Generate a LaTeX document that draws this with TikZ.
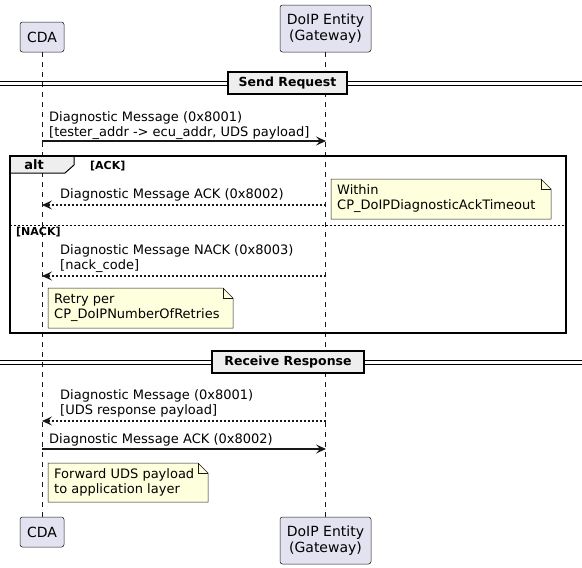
\documentclass[tikz,border=0pt]{standalone}
\usepackage{fontspec}
\setmainfont{DejaVu Sans}
\usetikzlibrary{arrows.meta,calc}
\definecolor{partfill}{HTML}{E2E2F0}
\definecolor{lineclr}{HTML}{181818}
\definecolor{notefill}{HTML}{FEFFDD}
\definecolor{grpfill}{HTML}{EEEEEE}
\newcommand\notebg[4]{%
  \filldraw[fill=notefill, draw=lineclr, line width=0.5pt]
    (#1,#2) -- ({#3-10},#2) -- (#3,{#2+10}) -- (#3,#4) -- (#1,#4) -- cycle;
  \draw[lineclr, line width=0.5pt] ({#3-10},#2) -- ({#3-10},{#2+10}) -- (#3,{#2+10});}
\begin{document}
\begin{tikzpicture}[x=1pt,y=-1pt,
  part/.style={draw=lineclr, fill=partfill, line width=0.5pt, rounded corners=2.5pt,
    inner sep=0pt, align=center, font=\fontsize{14}{16.5}\selectfont},
  life/.style={draw=lineclr, line width=0.5pt, dash pattern=on 5pt off 5pt},
  msg/.style={draw=lineclr, line width=1.2pt, -{Stealth[length=10pt,width=9pt,inset=4pt]}},
  rmsg/.style={msg, dash pattern=on 2pt off 2pt},
  lbl/.style={anchor=west, inner sep=0pt, align=left, font=\fontsize{13}{15}\selectfont, text=black},
  divbox/.style={draw=black, fill=grpfill, line width=1.5pt, inner sep=0pt,
    font=\fontsize{12.5}{14}\bfseries\selectfont},
  divline/.style={draw=black, line width=1pt},
  guard/.style={anchor=west, inner sep=0pt, font=\fontsize{11}{13}\bfseries\selectfont},
]
\useasboundingbox (0,0) rectangle (582,568);

% participants
\node[part, minimum width=44pt, minimum height=30pt] (cdaT) at (42,37) {CDA};
\node[part, minimum width=91pt, minimum height=47pt] (gwT) at (325.5,28.5) {DoIP Entity\\(Gateway)};
\node[part, minimum width=44pt, minimum height=30pt] (cdaB) at (42,532) {CDA};
\node[part, minimum width=91pt, minimum height=47pt] (gwB) at (325.5,540.5) {DoIP Entity\\(Gateway)};

% lifelines
\draw[life] (cdaT.south) -- (cdaB.north);
\draw[life] (gwT.south) -- (gwB.north);

% divider: Send Request
\draw[divline] (0,81) -- (582,81);
\draw[divline] (0,85) -- (582,85);
\node[divbox, minimum width=119pt, minimum height=22pt] (sendreq) at (287.5,83) {Send Request};

% message 1
\coordinate (c1) at (42,141);
\coordinate (g1) at (326,141);
\draw[msg] (c1) -- (g1);
\node[lbl] (m1) at (49,125.5) {Diagnostic Message (0x8001)\\{}[tester\_addr -> ecu\_addr, UDS payload]};

% alt frame
\filldraw[fill=grpfill, draw=black, line width=1pt]
  (10,156) -- (74,156) -- (74,165) -- (65,173) -- (10,173) -- cycle;
\draw[black, line width=1.5pt] (10,156) rectangle (566,333);
\node[inner sep=0pt, font=\fontsize{13}{15}\bfseries\selectfont] (altlbl) at (34,165) {alt};
\node[guard] (ackg) at (90,166) {[ACK]};

% ACK message
\coordinate (c2) at (42,205);
\coordinate (g2) at (326,205);
\draw[rmsg] (g2) -- (c2);
\node[lbl] (m2) at (60,195) {Diagnostic Message ACK (0x8002)};

% note 1
\notebg{331}{179}{551}{219}
\node[lbl] (n1) at (337,199) {Within\\CP\_DoIPDiagnosticAckTimeout};

% separator
\draw[black, line width=0.8pt, dash pattern=on 2pt off 2pt] (10,225) -- (566,225);
\node[guard] (nackg) at (16,232.5) {[NACK]};

% NACK message
\coordinate (c3) at (42,276);
\coordinate (g3) at (326,276);
\draw[rmsg] (g3) -- (c3);
\node[lbl] (m3) at (60,258.5) {Diagnostic Message NACK (0x8003)\\{}[nack\_code]};

% note 2
\notebg{48}{288}{233}{328}
\node[lbl] (n2) at (54,308) {Retry per\\CP\_DoIPNumberOfRetries};

% divider: Receive Response
\draw[divline] (0,360) -- (582,360);
\draw[divline] (0,364) -- (582,364);
\node[divbox, minimum width=152pt, minimum height=22pt] (recvresp) at (288,362) {Receive Response};

% response message
\coordinate (c4) at (42,421);
\coordinate (g4) at (326,421);
\draw[rmsg] (g4) -- (c4);
\node[lbl] (m4) at (60,403) {Diagnostic Message (0x8001)\\{}[UDS response payload]};

% ACK back
\coordinate (c5) at (42,449);
\coordinate (g5) at (326,449);
\draw[msg] (c5) -- (g5);
\node[lbl] (m5) at (49,440) {Diagnostic Message ACK (0x8002)};

% note 3
\notebg{48}{463}{208}{502}
\node[lbl] (n3) at (54,482.5) {Forward UDS payload\\to application layer};
\end{tikzpicture}
\end{document}
